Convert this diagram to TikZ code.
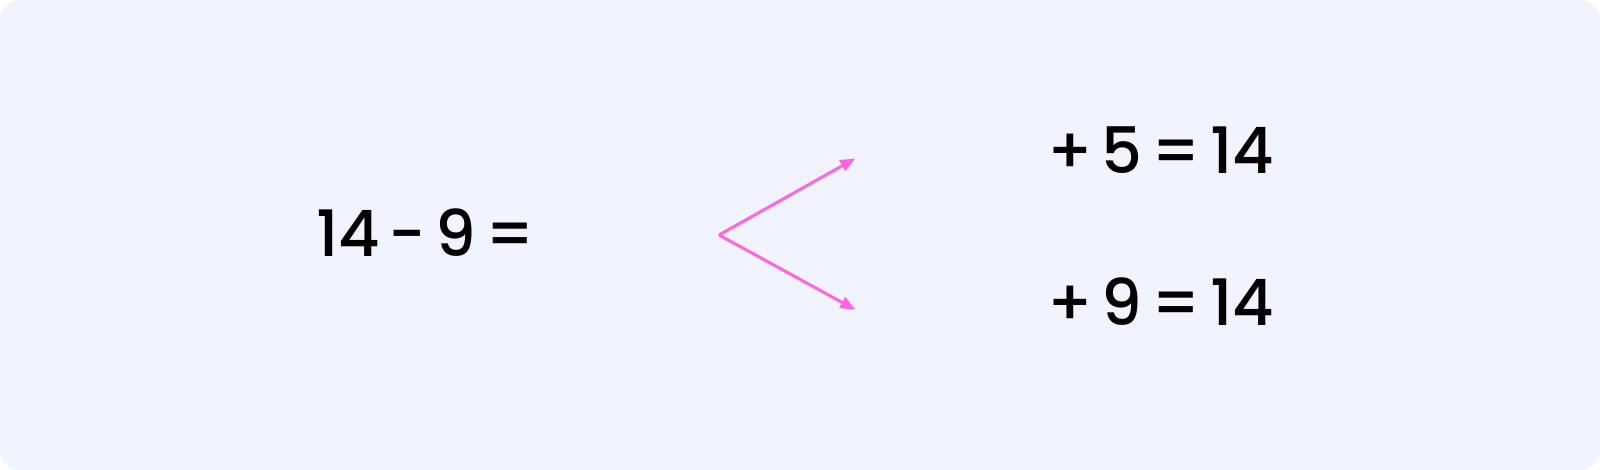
\documentclass[tikz,border=0pt]{standalone}
\usepackage{fontspec}
\setmainfont{Poppins}[UprightFont={* Medium}]
\usetikzlibrary{arrows.meta}
\definecolor{bg}{HTML}{F1F4FE}
\definecolor{arr}{HTML}{FF66DD}
\newcommand\tightsp{\spaceskip=9pt\relax}
\begin{document}
\begin{tikzpicture}[x=1pt,y=-1pt,
  eq/.style={font=\fontsize{64}{70}\selectfont, inner sep=0pt, anchor=west, text=black},
  conn/.style={draw=arr, line width=3pt, -{Triangle[length=15pt,width=12pt]}}]
\useasboundingbox (0,0) rectangle (1600,470);
\fill[white] (0,0) rectangle (1600,470);
\fill[bg, rounded corners=20pt] (0,0) rectangle (1600,470);
\node[eq] (q) at (316,233) {\tightsp 14 - 9 =};
\coordinate (o) at (719,235);
\node[inner sep=0pt] (t) at (856,158) {};
\node[inner sep=0pt] (b) at (856,310) {};
\draw[conn] (o) -- (t);
\draw[conn] (o) -- (b);
\node[eq] (a1) at (1047,150) {\tightsp + 5 = 14};
\node[eq] (a2) at (1047,302) {\tightsp + 9 = 14};
\end{tikzpicture}
\end{document}
